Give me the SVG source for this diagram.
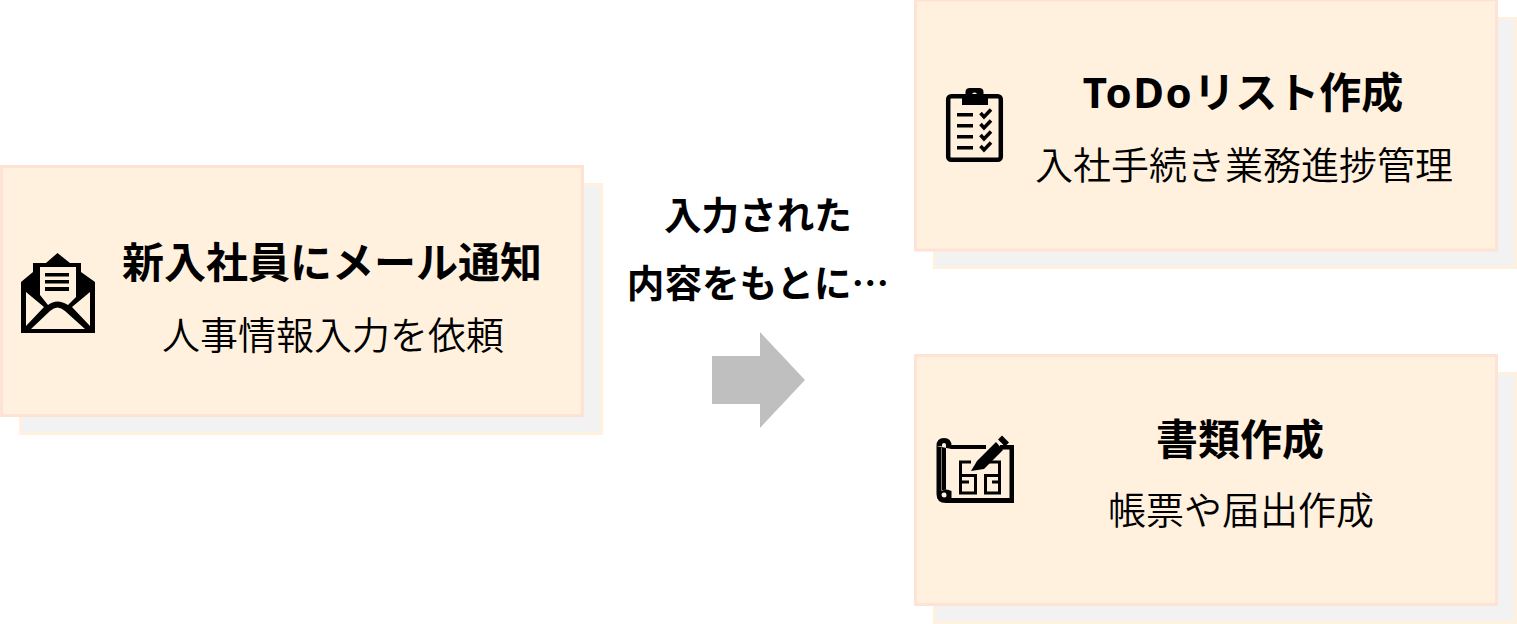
<svg xmlns="http://www.w3.org/2000/svg" width="1517" height="624" viewBox="0 0 1517 624">
<style>
.shadow{fill:#f2f2f2;stroke:#fff1de;stroke-width:3}
.box{fill:#fff1de;stroke:#ffe2d6;stroke-width:3}
text{font-family:"Noto Sans CJK JP",sans-serif;text-anchor:middle;fill:#000}
.t{font-size:42px;font-weight:700}
.s{font-size:38px;font-weight:350}
.m{font-size:37.600px;font-weight:700}
.lat{font-family:"Noto Sans",sans-serif;letter-spacing:1.500px}
.ic{fill:#000;fill-rule:evenodd}
.il{fill:none;stroke:#000}
</style>
<rect width="1517" height="624" fill="#fff"/>
<g id="node-mail">
<rect class="shadow" x="20.500" y="184.500" width="581" height="249"/>
<rect class="box" x="1.500" y="166.500" width="581" height="249"/>
<path class="ic" d="M21 282L33 272V263H46L57.500 253L70 263H81V272L95 282V333H21ZM40 267V295L48 305Q57 298 68 305L76 297V267ZM26 292V326L44 307ZM90 292L72 307L90 326ZM31 329H85L65 311Q57.500 304 50 311Z"/>
<path class="ic" d="M45 273H69V276.500H45ZM45 280H69V283.500H45ZM45 287H69V291H45Z"/>
<text class="t" x="332" y="278">新入社員にメール通知</text>
<text class="s" x="333" y="349">人事情報入力を依頼</text>
</g>
<g id="node-todo">
<rect class="shadow" x="934.500" y="18.500" width="581" height="249"/>
<rect class="box" x="915.500" y="0" width="581" height="250"/>
<rect class="il" x="948.200" y="96.200" width="52.600" height="63.600" rx="3" stroke-width="4.500"/>
<path class="ic" d="M962 105V94H965.500V92Q965.500 88 970 88H979Q983.500 88 983.500 92V94H988V105ZM974.500 92.500A2.500 2.500 0 1 0 974.600 97.500A2.500 2.500 0 1 0 974.500 92.500Z"/>
<path class="ic" d="M957 113H973V116.500H957ZM957 124H973V127.500H957ZM957 135H973V138.500H957ZM957 146H973V149.500H957Z"/>
<path class="il" stroke-width="3.500" d="M980.500 113L984 117L991 109.500M980.500 124L984 128L991 120.500M980.500 135L984 139L991 131.500M980.500 146L984 150L991 142.500"/>
<text class="t" x="1243" y="108"><tspan class="lat">ToDo</tspan>リスト作成</text>
<text class="s" x="1244" y="179">入社手続き業務進捗管理</text>
</g>
<g id="node-docs">
<rect class="shadow" x="934.500" y="373.500" width="581" height="249"/>
<rect class="box" x="915.500" y="355.500" width="581" height="249"/>
<path class="ic" d="M936.500 446Q936.500 438 944 438Q951.500 438 951.500 446V449H986V445H951.500V449ZM942 445V490H946V445Q946 443 944 443Q942 443 942 445ZM1000 445H1014V503H946Q936.500 503 936.500 494V446H941.500V491Q946 488 951.500 491V498H1009.500V449.500H1000ZM944 492.500A2.500 2.500 0 1 0 944.100 497.500A2.500 2.500 0 1 0 944 492.500Z"/>
<path class="ic" d="M971 471L977 461L996 442L1003 450L984 469Z"/>
<path class="ic" d="M998 439.500L1002 435.500L1009 442.500L1005 446.500Z"/>
<path class="il" stroke-width="3" d="M971 462H960.500V493H975.500V475.500H962M986 462H999.500V493H985.500V475.500H999M962 482H969M992 482H999"/>
<text class="t" x="1240" y="455">書類作成</text>
<text class="s" x="1241" y="524">帳票や届出作成</text>
</g>
<g id="label">
<text class="m" x="758" y="229">入力された</text>
<text class="m" x="758" y="297">内容をもとに…</text>
</g>
<g id="connectors">
<path d="M712 356H760V332L805 380L760 428V404H712Z" fill="#bfbfbf"/>
</g>
</svg>
